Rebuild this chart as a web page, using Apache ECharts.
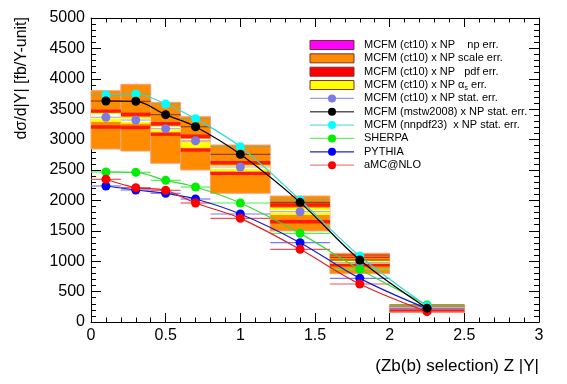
<!DOCTYPE html>
<html><head><meta charset="utf-8">
<script src="https://cdn.jsdelivr.net/npm/echarts@6/dist/echarts.min.js"></script>
<style>html,body{margin:0;padding:0;background:#fff}#c{width:567px;height:384px}</style>
</head><body><div id="c"></div>
<script>
// ---- data ----
const binLo = [0, 0.2, 0.4, 0.6, 0.8, 1.2, 1.6, 2.0];
const binHi = [0.2, 0.4, 0.6, 0.8, 1.2, 1.6, 2.0, 2.5];
const xCenter = [0.1, 0.3, 0.5, 0.7, 1.0, 1.4, 1.8, 2.25];

const mcfmCt10  = [3367, 3322, 3180, 2982, 2549, 1814, 976, 235];
const mcfmMstw  = [3635, 3630, 3410, 3212, 2758, 1968, 1020, 228];
const mcfmNnpdf = [3734, 3750, 3586, 3344, 2883, 2007, 1085, 262];
const sherpa    = [2467, 2462, 2330, 2220, 1957, 1458, 866, 280];
const pythia    = [2237, 2171, 2117, 2023, 1776, 1305, 718, 220];
const amcnlo    = [2347, 2209, 2166, 1957, 1705, 1195, 625, 170];

const scaleHi = [3805, 3909, 3613, 3377, 2911, 2072, 1130, 280];
const scaleLo = [2845, 2812, 2610, 2500, 2117, 1497, 795, 155];
const pdfHi   = [3465, 3415, 3260, 3055, 2618, 1924, 1080, 265];
const pdfLo   = [3207, 3200, 3090, 2830, 2445, 1650, 943, 195];
const asHi    = [3440, 3370, 3220, 2960, 2580, 1880, 1010, 250];
const asLo    = [3290, 3260, 3120, 2860, 2475, 1760, 960, 210];
const npHi    = [3420, 3345, 3215, 3010, 2560, 1840, 995, 240];
const npLo    = [3345, 3290, 3165, 2970, 2515, 1795, 975, 225];

const yTicks = [0, 500, 1000, 1500, 2000, 2500, 3000, 3500, 4000, 4500, 5000];
const xTicks = [0, 0.5, 1, 1.5, 2, 2.5, 3];

const legendLabels = [
  'MCFM (ct10) x NP    np err.',
  'MCFM (ct10) x NP scale err.',
  'MCFM (ct10) x NP   pdf err.',
  'MCFM (ct10) x NP {g|α}{s|s} err.',
  'MCFM (ct10) x NP stat. err.',
  'MCFM (mstw2008) x NP stat. err.',
  'MCFM (nnpdf23)  x NP stat. err.',
  'SHERPA',
  'PYTHIA',
  'aMC@NLO'
];
const xTitle = '(Zb(b) selection) Z |Y|';
const yTitle = 'dσ/d|Y| [fb/Y-unit]';

// ---- build ----
const FONT = 'Liberation Sans, Arial, Helvetica, sans-serif';

function bandSeries(lo, hi, fill, stroke, z) {
  return {
    type: 'custom', z: z, silent: true,
    data: binLo.map((b, i) => [b, binHi[i], lo[i], hi[i]]),
    encode: {x: [0, 1], y: [2, 3]},
    renderItem(params, api) {
      const p1 = api.coord([api.value(0), api.value(3)]);
      const p2 = api.coord([api.value(1), api.value(2)]);
      return {type: 'rect', shape: {x: p1[0], y: p1[1], width: p2[0] - p1[0], height: p2[1] - p1[1]},
        style: {fill: fill, stroke: stroke || null, lineWidth: stroke ? 1 : 0}};
    }
  };
}
function edgeSeries(lo, hi, color, width, z) {
  return {
    type: 'custom', z: z, silent: true,
    data: binLo.map((b, i) => [b, binHi[i], lo[i], hi[i]]),
    encode: {x: [0, 1], y: [2, 3]},
    renderItem(params, api) {
      const a = api.coord([api.value(0), api.value(3)]);
      const b = api.coord([api.value(1), api.value(2)]);
      return {type: 'group', children: [
        {type: 'line', shape: {x1: a[0], y1: a[1], x2: b[0], y2: a[1]}, style: {stroke: color, lineWidth: width}},
        {type: 'line', shape: {x1: a[0], y1: b[1], x2: b[0], y2: b[1]}, style: {stroke: color, lineWidth: width}}
      ]};
    }
  };
}
function hLineSeries(vals, color, z) {
  return {
    type: 'custom', z: z, silent: true,
    data: binLo.map((b, i) => [b, binHi[i], vals[i]]),
    encode: {x: [0, 1], y: 2},
    renderItem(params, api) {
      const a = api.coord([api.value(0), api.value(2)]);
      const b = api.coord([api.value(1), api.value(2)]);
      return {type: 'line', shape: {x1: a[0], y1: a[1], x2: b[0], y2: b[1]}, style: {stroke: color, lineWidth: 1.2}};
    }
  };
}
function curve(vals, lineColor, markColor, showLine, z) {
  return {
    type: 'line', z: z, silent: true, smooth: 0.35,
    data: xCenter.map((x, i) => [x, vals[i]]),
    symbol: 'circle', symbolSize: 9,
    itemStyle: {color: markColor},
    lineStyle: {color: lineColor, width: showLine ? 1.2 : 0, opacity: showLine ? 1 : 0}
  };
}

const series = [
  bandSeries(scaleLo, scaleHi, '#ff8c00', '#f6a27a', 2),
  edgeSeries(pdfLo, pdfHi, '#ff1a00', 3.5, 3),
  bandSeries(asLo, asHi, '#ffff00', null, 4),
  bandSeries(npLo, npHi, '#ffffff', null, 5),
  hLineSeries(mcfmNnpdf, '#a8a050', 6),
  hLineSeries(mcfmMstw, '#8a4510', 6),
  hLineSeries(mcfmCt10, '#c0a8d8', 6),
  hLineSeries(sherpa, '#55ee55', 6),
  hLineSeries(pythia, '#7777ff', 6),
  hLineSeries(amcnlo, '#ee5555', 6),
  curve(mcfmCt10, '#8080e0', '#7b7be0', false, 10),
  curve(sherpa, '#33dd33', '#00ee00', true, 10),
  curve(pythia, '#1a1acc', '#0000ff', true, 10),
  curve(amcnlo, '#e02020', '#ff0000', true, 11),
  curve(mcfmNnpdf, '#30d8d8', '#00ffff', true, 12),
  curve(mcfmMstw, '#000000', '#000000', true, 13)
];

const tickStyle = {color: '#000', width: 1};
function mkX(pos, labels) {
  return {type: 'value', min: xTicks[0], max: xTicks[xTicks.length - 1], interval: 0.5, position: pos,
    axisLine: {show: true, onZero: false, lineStyle: tickStyle},
    axisTick: {show: true, inside: true, length: 9, lineStyle: tickStyle},
    minorTick: {show: true, splitNumber: 5, length: 4.5, lineStyle: tickStyle},
    splitLine: {show: false},
    axisLabel: {show: labels, color: '#000', fontSize: 16, fontFamily: FONT, margin: 6,
      formatter: v => String(v)}};
}
function mkY(pos, labels) {
  return {type: 'value', min: yTicks[0], max: yTicks[yTicks.length - 1], interval: 500, position: pos,
    axisLine: {show: true, onZero: false, lineStyle: tickStyle},
    axisTick: {show: true, inside: true, length: 10, lineStyle: tickStyle},
    minorTick: {show: true, splitNumber: 5, length: 5, lineStyle: tickStyle},
    splitLine: {show: false},
    axisLabel: {show: labels, color: '#000', fontSize: 16, fontFamily: FONT, margin: 6,
      formatter: v => String(v)}};
}

// legend graphics
const legendGraphics = [];
const lx0 = 310, lx1 = 354, ltx = 364, ly0 = 45, ldy = 13.35;
const boxFills = ['#ff00ff', '#ff8c00', '#ff0000', '#ffff00'];
const lineCols = ['#9a9aee', '#555555', '#66dddd', '#66ee66', '#2424bb', '#ee8080'];
const markCols = ['#7b7be0', '#000000', '#00ffff', '#00ee00', '#0000ff', '#ff0000'];
legendLabels.forEach((t, i) => {
  const y = ly0 + i * ldy;
  if (i < 4) {
    legendGraphics.push({type: 'rect', shape: {x: lx0, y: y - 4.5, width: lx1 - lx0, height: 9},
      style: {fill: boxFills[i], stroke: '#7a3030', lineWidth: 1}});
  } else {
    const k = i - 4;
    legendGraphics.push({type: 'line', shape: {x1: lx0, y1: y, x2: lx1, y2: y}, style: {stroke: lineCols[k], lineWidth: 1.3}});
    legendGraphics.push({type: 'circle', shape: {cx: (lx0 + lx1) / 2, cy: y, r: 4}, style: {fill: markCols[k]}});
  }
  legendGraphics.push({type: 'text', x: ltx, y: y, style: {text: t, fill: '#000', fontSize: 11, fontFamily: FONT,
    verticalAlign: 'middle', align: 'left',
    rich: {g: {fontSize: 11, fontFamily: FONT, fill: '#000'}, s: {fontSize: 7, fontFamily: FONT, fill: '#000', padding: [6, 0, 0, 0]}}}});
});

const option = {
  animation: false,
  backgroundColor: '#fff',
  grid: {left: 91, right: 28, top: 18, bottom: 62, containLabel: false},
  xAxis: [mkX('bottom', true), mkX('top', false)],
  yAxis: [mkY('left', true), mkY('right', false)],
  series: series,
  graphic: legendGraphics.concat([
    {type: 'text', x: 539, y: 366, style: {text: xTitle, fill: '#000', fontSize: 17, fontFamily: FONT, align: 'right', verticalAlign: 'middle'}},
    {type: 'text', x: 22, y: 17, rotation: Math.PI / 2, style: {text: yTitle, fill: '#000', fontSize: 16, fontFamily: FONT, align: 'right', verticalAlign: 'middle'}}
  ])
};
const chart = echarts.init(document.getElementById('c'));
chart.setOption(option);
</script>
</body></html>
